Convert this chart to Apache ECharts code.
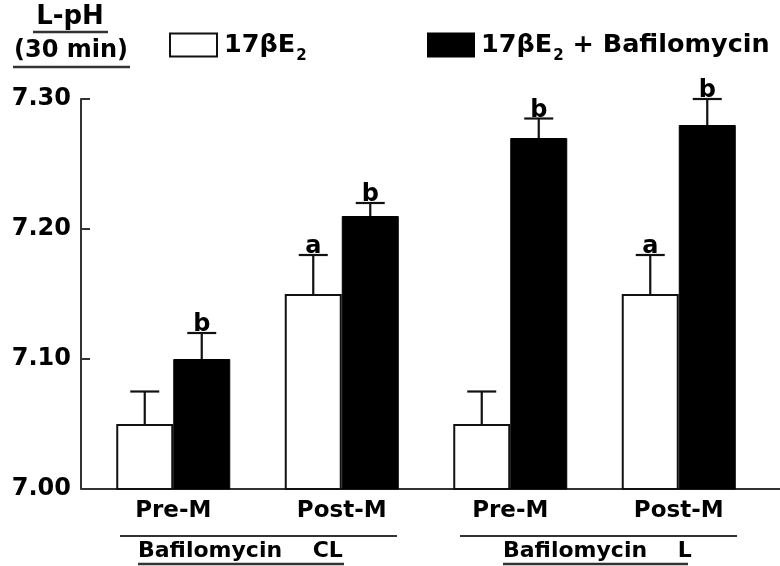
<!DOCTYPE html>
<html>
<head>
<meta charset="utf-8">
<script src="https://cdn.jsdelivr.net/npm/echarts@6/dist/echarts.min.js"></script>
<style>
html,body{margin:0;padding:0;background:#fff;}
#chart{width:780px;height:566px;}
</style>
</head>
<body>
<div id="chart"></div>
<script>
// ---- data ----
const categories = ['Pre-M', 'Post-M', 'Pre-M', 'Post-M'];
const seriesNames = ['17βE2', '17βE2 + Bafilomycin'];
const e2Values = [7.05, 7.15, 7.05, 7.15];
const e2Errors = [0.025, 0.03, 0.025, 0.03];
const e2Letters = ['', 'a', '', 'a'];
const bafValues = [7.10, 7.21, 7.27, 7.28];
const bafErrors = [0.02, 0.01, 0.015, 0.02];
const bafLetters = ['b', 'b', 'b', 'b'];
const yMin = 7.0, yMax = 7.3, yStep = 0.1;
const groupLabels = ['Bafilomycin    CL', 'Bafilomycin    L'];
const yTitleLines = ['L-pH', '(30 min)'];

// ---- styling constants ----
const FONT = '"DejaVu Sans", Arial, sans-serif';
const BAR_W = 57;
const CAP_W = 29;
const INK = '#111';

const chart = echarts.init(document.getElementById('chart'), null, {renderer: 'canvas'});

function errSeries(values, errs, letters, side) {
  return {
    type: 'custom',
    z: 5,
    silent: true,
    data: values.map((v, i) => [i, v, errs[i]]),
    encode: {x: 0, y: 1},
    renderItem: function (params, api) {
      const i = api.value(0), v = api.value(1), e = api.value(2);
      const p0 = api.coord([i, v]);
      const p1 = api.coord([i, v + e]);
      const x = p0[0] + side * BAR_W / 2;
      const st = {stroke: INK, lineWidth: 2.2};
      return {
        type: 'group',
        children: [
          {type: 'line', shape: {x1: x, y1: p0[1], x2: x, y2: p1[1]}, style: st},
          {type: 'line', shape: {x1: x - CAP_W / 2, y1: p1[1], x2: x + CAP_W / 2, y2: p1[1]}, style: st},
          {type: 'text', style: {text: letters[params.dataIndex], x: x, y: p1[1] + 4,
            align: 'center', verticalAlign: 'bottom', fontSize: 24, fontWeight: 'bold',
            fontFamily: FONT, fill: '#000'}}
        ]
      };
    }
  };
}

const legendText = {
  fontSize: 25.5, fontWeight: 'bold', fontFamily: FONT, color: '#000',
  padding: [0, 0, 0, 2],
  rich: {
    t: {fontSize: 25.5, fontWeight: 'bold', fontFamily: FONT, color: '#000'},
    s: {fontSize: 15, fontWeight: 'bold', fontFamily: FONT, color: '#000', padding: [22, 0, 0, 1]}
  }
};
function legendFmt(name) {
  const rest = name.slice('17βE2'.length);
  return '{t|17βE}{s|2}' + (rest ? '{t|' + rest + '}' : '');
}

const option = {
  animation: false,
  backgroundColor: '#fff',
  grid: {left: 89, right: 17, top: 99, bottom: 77, containLabel: false},
  legend: [
    {left: 169, top: 32, padding: 0, itemWidth: 47, itemHeight: 23, icon: 'rect', data: [seriesNames[0]],
      itemStyle: {borderColor: INK, borderWidth: 2}, textStyle: legendText, formatter: legendFmt, selectedMode: false},
    {left: 427, top: 32, padding: 0, itemWidth: 46, itemHeight: 23, icon: 'rect', data: [seriesNames[1]],
      textStyle: legendText, formatter: legendFmt, selectedMode: false}
  ],
  xAxis: {
    type: 'category',
    data: categories,
    axisLine: {show: false},
    axisTick: {show: false},
    axisLabel: {fontSize: 23, fontWeight: 'bold', fontFamily: FONT, color: '#000', margin: 11, interval: 0}
  },
  yAxis: {
    type: 'value',
    min: yMin, max: yMax, interval: yStep,
    offset: 8,
    splitLine: {show: false},
    axisLine: {show: true, lineStyle: {color: '#333', width: 2}},
    axisTick: {show: true, inside: true, length: 9, lineStyle: {color: '#333', width: 2}},
    axisLabel: {fontSize: 24, fontWeight: 'bold', fontFamily: FONT, color: '#000', margin: 10,
      formatter: v => v.toFixed(2)}
  },
  series: [
    {name: seriesNames[0], type: 'bar', data: e2Values, barWidth: BAR_W, barGap: '0%', clip: true,
      itemStyle: {color: '#fff', borderColor: INK, borderWidth: 2}},
    {name: seriesNames[1], type: 'bar', data: bafValues, barWidth: BAR_W, barGap: '0%', clip: true,
      itemStyle: {color: '#000', borderColor: '#000', borderWidth: 1}},
    errSeries(e2Values, e2Errors, e2Letters, -1),
    errSeries(bafValues, bafErrors, bafLetters, 1)
  ]
};
chart.setOption(option);

// annotations (baseline, y-title, group labels)
const baseY = chart.convertToPixel({yAxisIndex: 0}, yMin);
const txt = (text, x, y, size, align) => ({type: 'text', x: x, y: y,
  style: {text: text, fontSize: size, fontWeight: 'bold', fontFamily: FONT, fill: '#000',
    align: align || 'left', verticalAlign: 'middle'}});
const hline = (x1, x2, y, w) => ({type: 'line', shape: {x1: x1, y1: y, x2: x2, y2: y},
  style: {stroke: '#333', lineWidth: w || 2}});
chart.setOption({
  graphic: [
    hline(81, 780, baseY, 2),
    txt(yTitleLines[0], 70, 17, 26, 'center'),
    hline(33, 108, 32, 2.5),
    txt(yTitleLines[1], 71, 51, 24, 'center'),
    hline(13, 130, 67, 2.5),
    hline(120, 397, 536, 2),
    txt(groupLabels[0], 138, 551, 22),
    hline(138, 344, 564, 2.5),
    hline(460, 737, 536, 2),
    txt(groupLabels[1], 503, 551, 22),
    hline(503, 688, 564, 2.5)
  ]
});
</script>
</body>
</html>
